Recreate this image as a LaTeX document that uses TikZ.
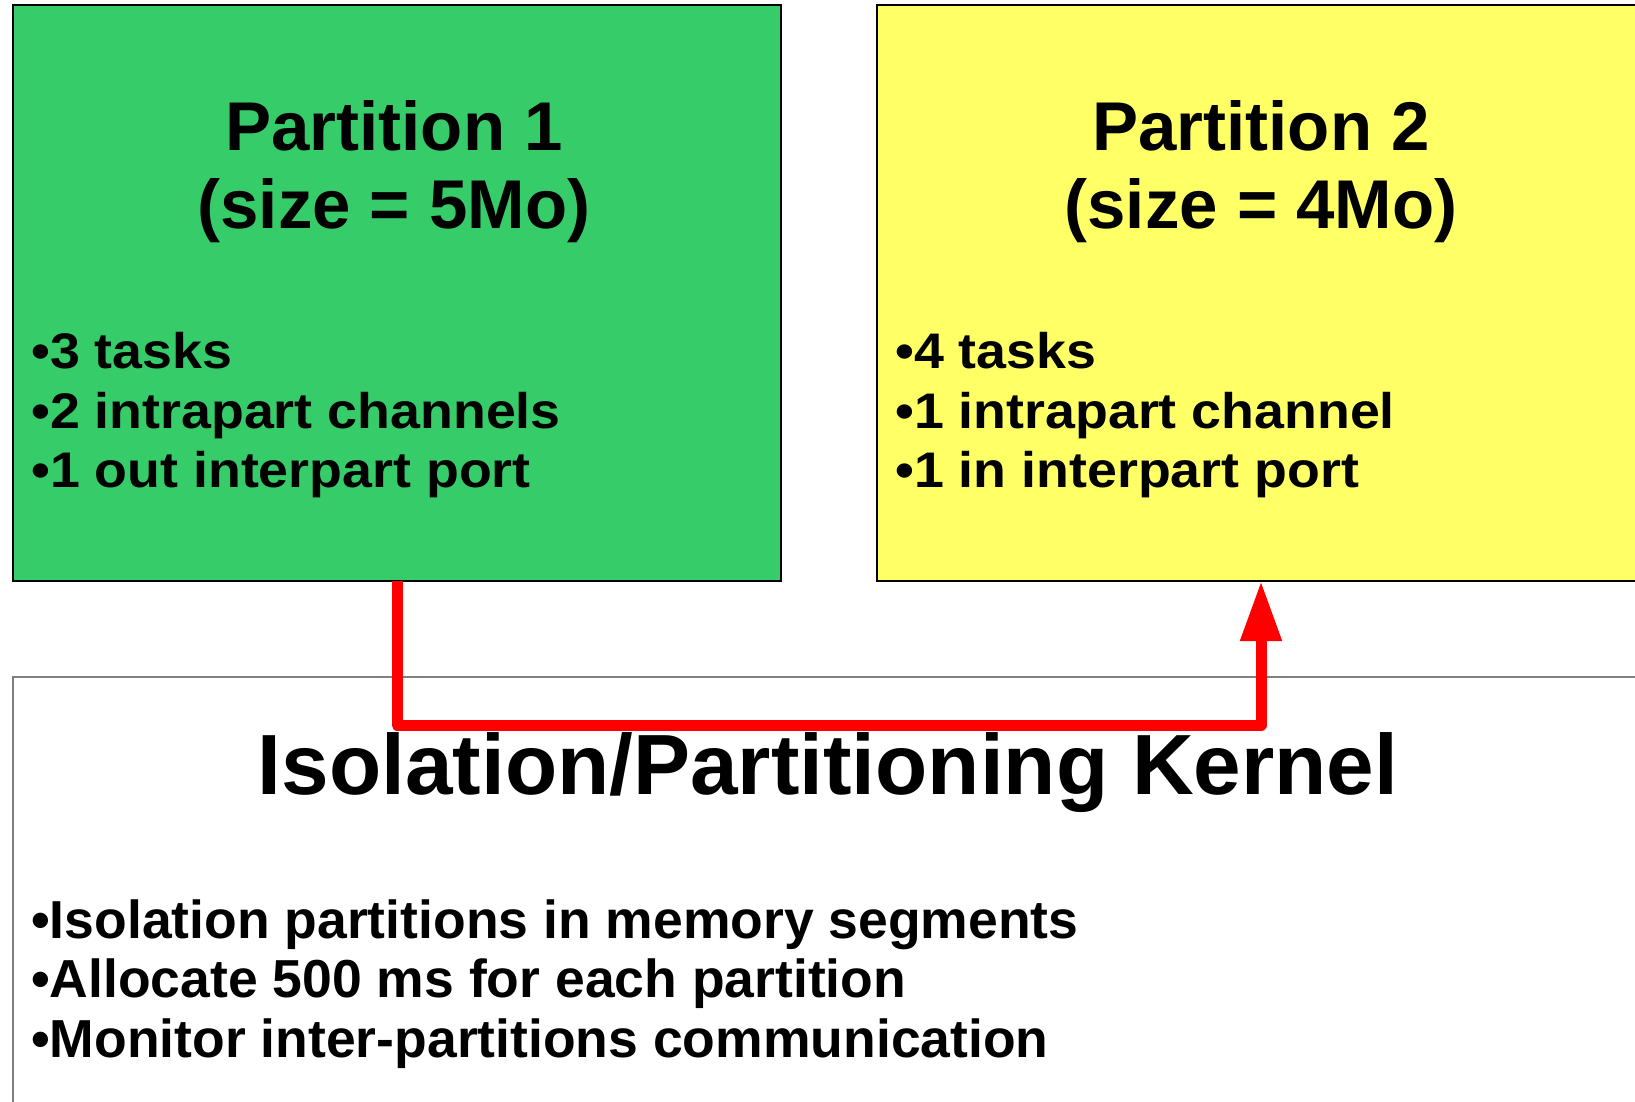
\documentclass[tikz,border=0pt]{standalone}
\usepackage{fontspec}
\usepackage{graphicx}
\setmainfont{Liberation Sans}
\usetikzlibrary{arrows.meta}
\definecolor{pgreen}{RGB}{54,204,106}
\definecolor{pyellow}{RGB}{255,255,102}
\definecolor{kborder}{RGB}{128,128,128}
\newcommand\wideline[1]{\scalebox{1.075}[1]{#1}}
\begin{document}
\begin{tikzpicture}[x=1pt,y=-1pt,
  box/.style={draw=black, line width=1.3pt, anchor=north west, inner sep=0pt, outer sep=0pt},
  kbox/.style={draw=kborder, fill=white, line width=1.6pt, anchor=north west, inner sep=0pt, outer sep=0pt},
  titletext/.style={anchor=base, inner sep=0pt, font=\fontsize{69}{77}\selectfont\bfseries},
  ktitletext/.style={anchor=base, inner sep=0pt, font=\fontsize{85.5}{98}\selectfont\bfseries},
  itemtext/.style={anchor=base west, inner sep=0pt, font=\fontsize{50}{60}\selectfont\bfseries},
  kitemtext/.style={anchor=base west, inner sep=0pt, font=\fontsize{53.5}{60}\selectfont\bfseries},
  conn/.style={draw=red, line width=11pt, line join=round, -{Triangle[length=60pt,width=39pt]}}
]
\useasboundingbox (0,0) rectangle (1635,1102);
\clip (0,0) rectangle (1635,1102);
\fill[white] (0,0) rectangle (1635,1102);

% kernel box
\node[kbox, minimum width=1632pt, minimum height=440pt] (k) at (13,677) {};
% partitions
\node[box, fill=pgreen, minimum width=768pt, minimum height=576pt] (p1) at (13,5) {};
\node[box, fill=pyellow, minimum width=768pt, minimum height=576pt] (p2) at (877,5) {};

% partition 1 texts
\node[titletext] (p1t1) at (394,151) {Partition 1};
\node[titletext] (p1t2) at (394,228) {(size = 5Mo)};
\node[itemtext] (p1a) at (31,368) {\wideline{•3 tasks}};
\node[itemtext] (p1b) at (31,428) {\wideline{•2 intrapart channels}};
\node[itemtext] (p1c) at (31,487.5) {\wideline{•1 out interpart port}};

% partition 2 texts
\node[titletext] (p2t1) at (1261,151) {Partition 2};
\node[titletext] (p2t2) at (1261,228) {(size = 4Mo)};
\node[itemtext] (p2a) at (895,368) {\wideline{•4 tasks}};
\node[itemtext] (p2b) at (895,428) {\wideline{•1 intrapart channel}};
\node[itemtext] (p2c) at (895,487.5) {\wideline{•1 in interpart port}};

% kernel texts
\node[ktitletext] (kt) at (828,794) {Isolation/Partitioning Kernel};
\node[kitemtext] (ka) at (31,938) {•Isolation partitions in memory segments};
\node[kitemtext] (kb) at (31,997.5) {•Allocate 500 ms for each partition};
\node[kitemtext] (kc) at (31,1057) {•Monitor inter-partitions communication};

% connector
\coordinate (turn) at (397,725);
\draw[conn] (p1.south) -- (turn) -| (p2.south);
\end{tikzpicture}
\end{document}
